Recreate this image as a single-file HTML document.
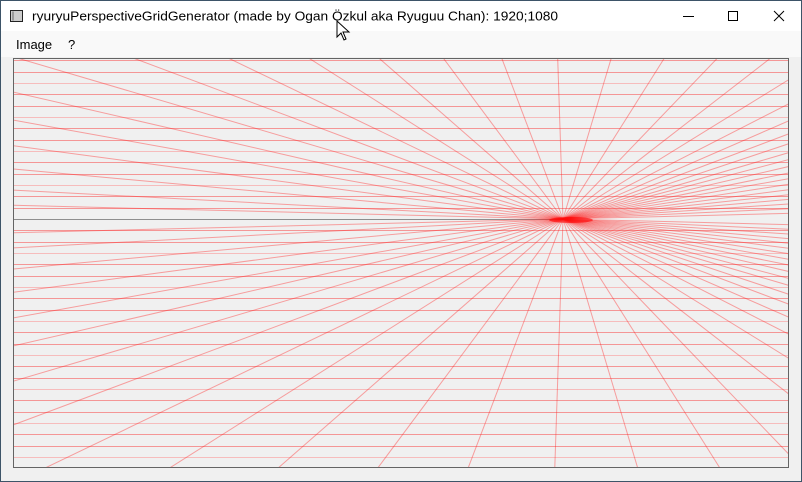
<!DOCTYPE html>
<html><head><meta charset="utf-8"><style>
html,body{margin:0;padding:0;width:802px;height:482px;overflow:hidden;background:#f0f0f0;font-family:"Liberation Sans",sans-serif}
#win{position:absolute;left:0;top:0;width:800px;height:480px;border:1px solid #3d5468;background:#f0f0f0;overflow:hidden}
#title{position:absolute;left:0;top:0;width:800px;height:30px;background:#fff}
#menu{position:absolute;left:0;top:30px;width:800px;height:26px;background:#f9f9f9;font-size:12px}
#menu span{position:absolute;top:6px}
svg{position:absolute;left:0;top:0}
</style></head><body>
<div id="win">
 <div id="title">
  <svg width="800" height="30">
   <g><rect x="9.5" y="9.5" width="12" height="11" fill="#ccc" stroke="#222"/><rect x="11" y="10.5" width="2" height="9" fill="#999"/></g>
   <text x="31" y="19.5" font-size="13" textLength="526" lengthAdjust="spacingAndGlyphs" font-family="Liberation Sans, sans-serif" fill="#000">ryuryuPerspectiveGridGenerator (made by Ogan Özkul aka Ryuguu Chan): 1920;1080</text>
   <line x1="682" y1="15.5" x2="693" y2="15.5" stroke="#000"/>
   <rect x="727.5" y="10.5" width="9" height="9" fill="none" stroke="#000"/>
   <path d="M773 10 L783 20 M783 10 L773 20" stroke="#000"/>
  </svg>
 </div>
 <div id="menu">
  <span style="left:15px;font-size:13px">Image</span>
  <span style="left:67px;font-size:13px">?</span>
 </div>
</div>
<svg id="grid" width="802" height="482"></svg>
<svg width="802" height="482" style="pointer-events:none"><path d="M337 21 L337 37 L341 33 L344 40 L346 39 L343 32 L349 32 Z" fill="#fff" stroke="#000" stroke-width="1"/></svg>
<script>
const rayTans = [-40,-19,-11,-7.5,-5.56,-4.33,-3.39,-2.67,-2.08,-1.58,-1.144,-0.744,-0.381,-0.033,0.30,0.63,0.96,1.29,1.62,1.96,2.30,2.65,3.0,3.4,3.8,4.3,4.9,5.6,6.5,7.7,9.3,11.5,15,22,40];
const rowOffsets = [-14,-13,-12,-11,-10,-9,-8,-7,-6,-5,-4,-3,-2,-1,1,2,3,4,5,6,7,8,9,10,11,12,13,14,15,16,17,18,19,20,21,22];
const vp = {x:563, y:219};
const rowStep = 11.33;
const L = 13.5, R = 788.5, T = 58.5, B = 467.5;
const NS = 'http://www.w3.org/2000/svg';
const svg = document.getElementById('grid');
function mk(tag, attrs){const e=document.createElementNS(NS,tag);for(const k in attrs)e.setAttribute(k,attrs[k]);return e;}
const defs = mk('defs',{});
const cp = mk('clipPath',{id:'cv'});
cp.appendChild(mk('rect',{x:L,y:T,width:R-L,height:B-T}));
defs.appendChild(cp);svg.appendChild(defs);
const bg = mk('rect',{x:L,y:T,width:R-L,height:B-T,fill:'#f0f0f0'});


svg.appendChild(bg);
const g = mk('g',{'clip-path':'url(#cv)'});
svg.appendChild(g);
function yRow(k){return vp.y + k*rowStep;}
rowOffsets.forEach((k,i)=>{
  const y = Math.round(yRow(k))+0.5;
  const ln = mk('line',{x1:L,x2:R,y1:y,y2:y,stroke:(k%3===0)?'#f6bcbc':'#f49696','stroke-width':1});
  
  
  g.appendChild(ln);
});
const hz = mk('line',{x1:L,x2:vp.x,y1:vp.y+0.5,y2:vp.y+0.5,stroke:'#8e8e8e'});


g.appendChild(hz);
const D = 2000;
rayTans.forEach(t=>{
  [-1,1].forEach(s=>{
    const n = Math.sqrt(t*t+1);
    const ln = mk('line',{x1:vp.x,y1:vp.y,x2:vp.x+t/n*D,y2:vp.y+s/n*D,stroke:'#ff2020','stroke-opacity':0.4,'stroke-width':1});
    
    
    g.appendChild(ln);
  });
});
const blob = mk('ellipse',{cx:vp.x+8,cy:vp.y+1,rx:22,ry:3,fill:'#ff0000','fill-opacity':0.6});


g.appendChild(blob);
const fr = mk('rect',{x:L,y:T,width:R-L,height:B-T,fill:'none',stroke:'#646464'});


svg.appendChild(fr);
</script>
</body></html>
